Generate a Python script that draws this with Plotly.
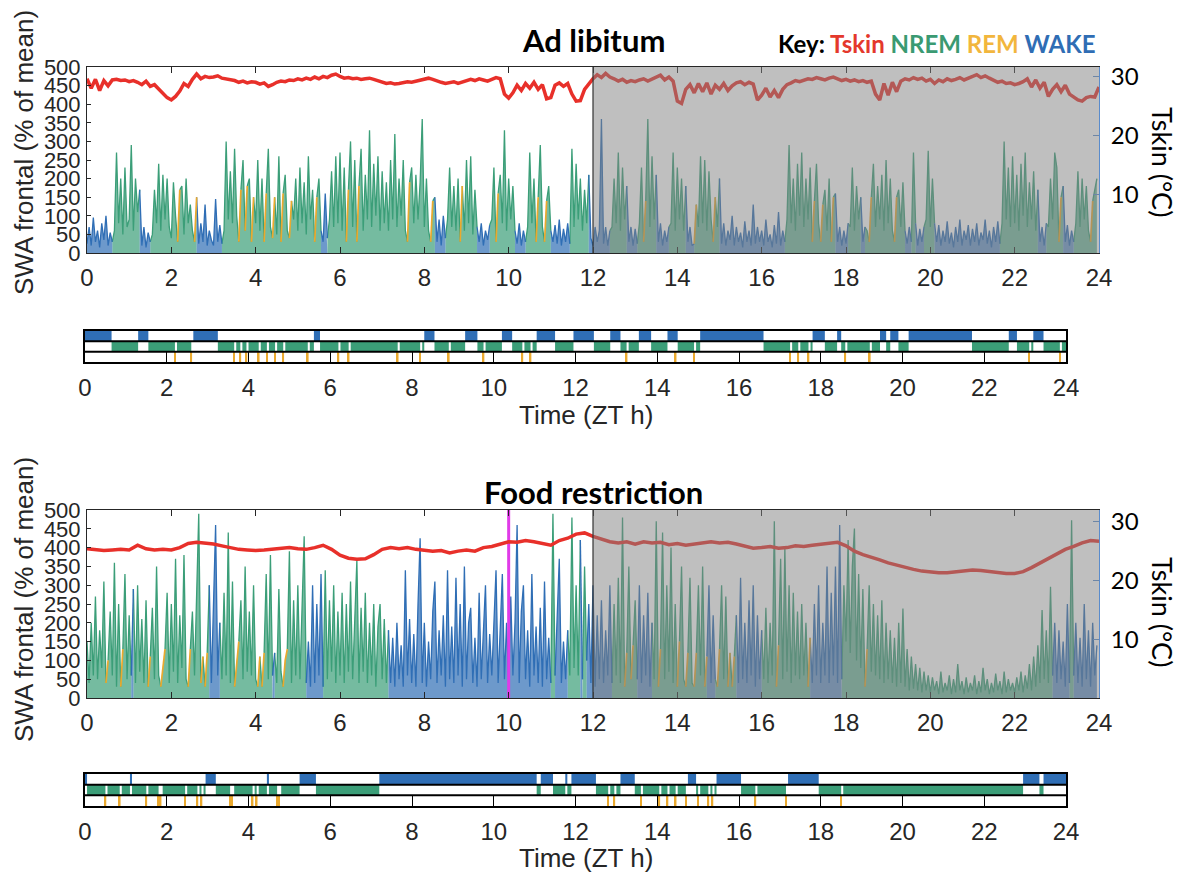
import numpy as np
import plotly.graph_objects as go

W, H = 1183, 873
def px(x): return x / W
def py(y): return 1 - y / H

# ---------------- DATA ----------------
dark_start, dark_end = 12, 24
feeding_time = 10
hours = list(range(0, 25, 2))
swa_ticks = list(range(0, 501, 50))
tskin_ticks = [10, 20, 30]
swa_step = 0.05   # h between SWA samples

# Ad libitum: wake bouts (start, end) in ZT h, REM episode times
wake_al = [(0, 0.65), (1.3, 1.55), (2.65, 3.25), (5.6, 5.75), (8.3, 8.55), (9.3, 9.6),
           (10.2, 10.45), (11.05, 11.5), (11.95, 12.45), (12.85, 13.1), (13.55, 13.85),
           (14.25, 14.5), (15.05, 16.6), (17.8, 18.1), (18.4, 18.5), (19.45, 19.6),
           (19.7, 19.9), (20.15, 21.7), (22.6, 22.8), (23.2, 23.45)]
rem_al = [2.2, 2.6, 3.65, 3.8, 3.95, 4.25, 4.45, 4.65, 4.85, 5.45, 6.2, 6.45, 7.65, 8.2,
          8.9, 9.75, 10.7, 10.9, 13.25, 14.45, 14.9, 17.25, 17.45, 17.7, 18.6, 19.2, 23.1, 23.85]

swa_al = [
    25, 70, 20, 95, 30, 60, 15, 80, 35, 100, 20, 55, 30, 60, 270, 80, 200, 50, 230, 70,
    90, 290, 60, 200, 110, 170, 20, 70, 15, 55, 30, 50, 170, 80, 240, 60, 210, 90, 200, 70,
    40, 190, 100, 30, 170, 180, 50, 200, 80, 130, 60, 30, 150, 25, 80, 30, 130, 20, 60, 35,
    20, 145, 30, 75, 25, 60, 300, 90, 220, 80, 280, 100, 30, 170, 250, 60, 180, 200, 30, 150,
    80, 250, 60, 200, 30, 160, 280, 70, 40, 150, 50, 260, 30, 160, 210, 60, 40, 140, 90, 200,
    60, 230, 80, 190, 50, 260, 90, 170, 30, 150, 200, 60, 30, 160, 40, 90, 220, 70, 260, 80,
    270, 60, 230, 30, 170, 300, 70, 250, 30, 180, 280, 60, 210, 90, 330, 70, 240, 100, 260, 60,
    220, 80, 190, 60, 250, 90, 320, 70, 200, 100, 250, 60, 30, 190, 230, 80, 210, 90, 190, 360,
    70, 200, 60, 30, 140, 150, 30, 90, 20, 100, 40, 90, 230, 70, 180, 60, 200, 30, 180, 60,
    250, 80, 260, 50, 170, 70, 30, 80, 20, 60, 35, 75, 90, 230, 30, 160, 210, 80, 330, 60,
    200, 90, 180, 60, 25, 80, 20, 60, 30, 70, 270, 80, 200, 30, 150, 290, 70, 30, 140, 180,
    60, 30, 75, 25, 90, 20, 65, 30, 80, 25, 280, 70, 240, 90, 200, 60, 170, 80, 210, 40,
    20, 70, 30, 60, 360, 25, 70, 20, 60, 70, 200, 80, 270, 60, 230, 90, 180, 30, 70, 20,
    65, 25, 80, 230, 30, 140, 360, 70, 260, 90, 210, 30, 80, 20, 60, 30, 70, 80, 270, 60,
    230, 90, 200, 60, 180, 30, 70, 20, 25, 130, 70, 260, 80, 250, 60, 220, 90, 30, 150, 70,
    200, 25, 80, 20, 60, 35, 100, 20, 70, 30, 55, 15, 85, 30, 60, 20, 130, 25, 70, 30,
    60, 20, 90, 30, 50, 15, 75, 25, 110, 20, 60, 30, 90, 290, 80, 200, 60, 240, 100, 270,
    70, 200, 90, 230, 30, 140, 240, 80, 30, 130, 170, 60, 200, 30, 150, 160, 30, 70, 20, 60,
    25, 80, 70, 230, 60, 180, 90, 150, 30, 70, 60, 30, 150, 240, 70, 180, 90, 210, 60, 250,
    80, 200, 60, 30, 150, 170, 70, 190, 60, 25, 70, 30, 270, 80, 20, 65, 30, 70, 90, 275,
    70, 200, 80, 30, 75, 20, 60, 30, 85, 25, 55, 15, 70, 30, 90, 20, 60, 35, 75, 20,
    65, 30, 80, 20, 55, 35, 90, 25, 60, 15, 70, 30, 85, 25, 80, 300, 90, 230, 70, 260,
    80, 210, 60, 240, 100, 270, 70, 190, 90, 220, 60, 170, 30, 70, 20, 80, 70, 200, 90, 270,
    230, 30, 150, 180, 30, 75, 20, 60, 30, 80, 220, 70, 200, 90, 180, 60, 30, 140, 170, 200,
]

tskin_al = [
    29.6, 28.0, 29.5, 27.6, 29.3, 28.4, 29.4, 29.5, 29.3, 29.4,
    29.1, 29.3, 29.0, 28.6, 29.2, 28.3, 28.6, 27.8, 27.2, 26.4,
    26.0, 26.6, 27.5, 28.8, 28.3, 29.5, 30.4, 29.6, 30.0, 29.8,
    29.9, 30.1, 29.7, 29.6, 29.4, 29.3, 29.0, 29.2, 28.9, 29.1,
    29.0, 28.7, 28.9, 28.3, 28.6, 29.0, 29.2, 29.1, 29.4, 29.3,
    29.6, 29.4, 29.7, 29.5, 29.9, 29.6, 30.0, 29.8, 30.2, 30.4,
    30.0, 29.7, 29.8, 29.6, 29.7, 29.5, 29.6, 29.7, 29.5, 29.3,
    29.0, 28.8, 28.9, 28.7, 28.8, 29.0, 29.1, 29.0, 29.2, 29.4,
    29.5, 29.7, 29.5, 29.2, 29.0, 28.8, 28.9, 29.1, 28.8, 29.0,
    29.3, 29.5, 29.3, 29.6, 29.4, 29.2, 29.5, 29.8, 29.6, 27.0,
    26.3, 27.2, 28.5, 27.6, 28.8, 28.0, 29.0, 27.8, 28.6, 26.2,
    26.4, 28.5, 28.9, 28.3, 28.8, 27.0, 25.8, 25.9, 27.8, 28.8,
    29.6, 30.3, 29.8, 30.5, 29.9, 29.6, 29.2, 29.5, 29.0, 29.3,
    29.1, 29.4, 29.6, 29.2, 29.5, 29.8, 30.2, 29.4, 29.9, 29.2,
    25.8, 25.4, 27.8, 28.6, 27.2, 28.8, 27.4, 28.9, 27.0, 28.5,
    27.8, 28.8, 27.6, 28.4, 28.9, 29.1, 28.6, 29.0, 28.7, 26.0,
    26.8, 28.0, 26.5, 27.6, 26.4, 27.8, 28.6, 28.9, 29.3, 29.1,
    29.4, 29.6, 29.5, 29.8, 29.6, 29.4, 29.7, 29.9, 29.6, 29.3,
    29.5, 29.2, 29.4, 29.1, 29.3, 29.0, 29.2, 27.0, 26.0, 28.8,
    26.8, 29.0, 27.4, 29.2, 29.6, 29.4, 29.8, 29.5, 29.7, 29.2,
    29.5, 28.8, 29.4, 29.1, 29.6, 29.3, 29.5, 29.8, 29.4, 29.7,
    30.0, 30.3, 29.8, 30.1, 29.7, 29.4, 29.0, 29.2, 28.8, 28.9,
    28.6, 28.8, 29.1, 29.6, 28.2, 29.4, 28.0, 29.0, 26.6, 27.8,
    28.6, 27.4, 28.5, 27.0, 26.5, 26.0, 25.8, 26.4, 26.6, 26.5,
    28.2,
]

# Food restriction
wake_fr = [(0, 0.05), (1.1, 1.15), (2.95, 3.2), (4.45, 4.5), (5.25, 5.65), (7.2, 11.05),
           (11.15, 11.45), (11.75, 11.8), (11.9, 12.5), (13.1, 13.45), (14.75, 14.95),
           (15.45, 16.05), (17.2, 17.95), (22.95, 23.35), (23.45, 24.0)]
rem_fr = [0.5, 0.85, 1.5, 1.8, 1.85, 2.45, 2.75, 2.85, 3.55, 3.6, 4.1, 4.2, 4.7, 4.75,
          12.8, 12.95, 13.6, 14.05, 14.25, 14.45, 14.7, 15.0, 15.25, 15.35, 16.4, 17.15, 18.5]

swa_fr = [
    150, 40, 200, 60, 270, 50, 180, 80, 310, 40, 100, 230, 60, 360, 30, 250, 30, 130, 330, 50,
    220, 60, 290, 40, 300, 70, 210, 40, 260, 30, 110, 240, 50, 350, 60, 30, 80, 130, 280, 40,
    250, 70, 370, 40, 220, 80, 380, 50, 30, 130, 230, 60, 290, 490, 40, 110, 30, 120, 300, 40,
    250, 460, 60, 200, 50, 280, 60, 440, 40, 310, 30, 100, 150, 260, 50, 350, 70, 230, 60, 300,
    50, 30, 110, 30, 120, 330, 50, 380, 60, 120, 40, 290, 70, 30, 100, 130, 390, 40, 260, 60,
    300, 50, 220, 430, 40, 150, 30, 300, 40, 250, 60, 330, 30, 340, 50, 260, 70, 300, 40, 230,
    60, 280, 40, 250, 70, 310, 50, 220, 367, 40, 240, 70, 280, 40, 200, 60, 250, 30, 190, 250,
    50, 210, 40, 180, 40, 160, 30, 200, 50, 140, 30, 340, 60, 210, 40, 170, 30, 250, 425, 40,
    200, 30, 150, 50, 230, 310, 40, 180, 60, 220, 30, 340, 50, 190, 40, 320, 60, 250, 30, 350,
    50, 200, 240, 40, 160, 30, 280, 50, 190, 300, 40, 170, 60, 220, 340, 40, 180, 330, 50, 200,
    40, 270, 60, 200, 460, 40, 230, 300, 50, 180, 30, 330, 60, 190, 40, 240, 30, 310, 50, 160,
    40, 490, 60, 200, 370, 40, 150, 50, 180, 60, 480, 80, 300, 60, 420, 50, 350, 100, 250, 40,
    300, 30, 220, 50, 260, 40, 180, 60, 300, 40, 250, 60, 320, 40, 480, 30, 120, 350, 50, 140,
    260, 50, 300, 40, 220, 60, 280, 30, 200, 50, 470, 30, 130, 440, 50, 300, 70, 400, 40, 250,
    30, 150, 350, 50, 30, 120, 320, 40, 30, 120, 300, 60, 350, 30, 110, 300, 40, 220, 50, 30,
    130, 300, 50, 270, 30, 120, 30, 110, 220, 40, 320, 50, 200, 40, 260, 60, 300, 30, 220, 50,
    180, 50, 240, 40, 200, 60, 470, 30, 140, 370, 50, 400, 70, 300, 40, 280, 60, 230, 50, 250,
    60, 200, 30, 160, 40, 250, 60, 300, 40, 200, 60, 350, 40, 280, 60, 350, 40, 460, 50, 300,
    150, 420, 120, 350, 451, 100, 330, 80, 290, 30, 130, 300, 70, 250, 60, 220, 50, 260, 40, 200,
    50, 180, 40, 160, 30, 200, 40, 238, 30, 130, 20, 110, 25, 90, 20, 80, 15, 70, 20, 60,
    15, 55, 20, 45, 10, 70, 15, 40, 20, 60, 10, 50, 15, 90, 20, 45, 10, 55, 15, 40,
    20, 60, 10, 45, 15, 80, 20, 50, 10, 40, 15, 65, 20, 45, 10, 70, 15, 50, 20, 40,
    15, 55, 20, 70, 15, 60, 25, 90, 20, 110, 30, 140, 40, 234, 50, 180, 40, 296, 60, 200,
    40, 180, 50, 150, 30, 250, 40, 473, 60, 200, 40, 160, 30, 250, 50, 180, 30, 200, 60, 140,
]

tskin_fr = [
    25.4, 25.2, 25.1, 25.2, 25.3, 25.2, 26.0, 25.4, 25.2, 25.3,
    25.2, 25.6, 26.3, 26.5, 26.4, 26.2, 25.9, 25.6, 25.3, 25.2,
    25.1, 25.2, 25.3, 25.5, 25.6, 25.4, 25.3, 25.6, 26.0, 25.3,
    24.3, 23.8, 23.6, 23.7, 24.4, 25.3, 25.6, 25.4, 25.6, 25.3,
    25.2, 25.0, 25.1, 24.7, 25.0, 25.2, 25.0, 25.6, 25.8, 26.2,
    26.6, 26.5, 26.8, 26.6, 26.3, 26.0, 26.8, 27.2, 27.9, 28.1,
    27.5, 27.0, 26.6, 26.4, 26.6, 26.2, 26.6, 26.4, 26.5, 26.1,
    26.3, 26.0, 26.2, 26.5, 26.6, 26.4, 26.5, 26.2, 25.9, 25.5,
    25.6, 25.8, 25.5, 25.6, 25.9, 25.8, 26.0, 26.2, 26.4, 26.5,
    25.9, 25.0, 24.4, 24.0, 23.5, 23.0, 22.6, 22.2, 21.9, 21.6,
    21.4, 21.3, 21.3, 21.5, 21.6, 21.8, 21.7, 21.5, 21.3, 21.2,
    21.2, 21.5, 22.2, 23.0, 23.8, 24.6, 25.3, 25.8, 26.4, 26.8,
    26.7,
]

# ---------------- STYLE ----------------
WAKE_C = '#2f6eb5'
NREM_C = '#3b9e78'
REM_C = '#eaa92e'
FILL = {'N': 'rgba(59,158,120,0.7)', 'W': 'rgba(47,110,181,0.7)'}
TSKIN_C = '#e8302a'
MAGENTA = '#e03be8'
AX_C = '#262626'
RIGHT_C = '#5a8ccc'
SANS = 'Liberation Sans, Arial'
TICK_FONT = dict(family=SANS, size=24, color=AX_C)
YTICK_FONT = dict(family=SANS, size=22, color=AX_C)

fig = go.Figure()


def sample_times(n):
    return [round(i * swa_step, 4) for i in range(n)]


def compute_states(t, wake, rem):
    out = []
    for x in t:
        if any(abs(x - r) < swa_step / 2 for r in rem):
            out.append('R')
        elif any(a - 1e-6 <= x < b - 1e-6 for a, b in wake):
            out.append('W')
        else:
            out.append('N')
    return out


def runs_of(st, s):
    """index runs [i0, i1] of segments ending in state s (segment k: k -> k+1)"""
    out, cur = [], None
    for i in range(len(st) - 1):
        if st[i + 1] == s:
            if cur is None:
                cur = [i, i + 1]
            else:
                cur[1] = i + 1
        elif cur is not None:
            out.append(cur); cur = None
    if cur is not None:
        out.append(cur)
    return out


def add_swa(t, v, st, xa, ya):
    colors = {'N': NREM_C, 'W': WAKE_C, 'R': REM_C}
    # filled cores (drawn first); brief REM episodes sit inside the NREM fill
    st_fill = ['N' if s == 'R' else s for s in st]
    for s in ['N', 'W']:
        fx, fy = [], []
        for i0, i1 in runs_of(st_fill, s):
            if fx:
                fx.append(None); fy.append(None)
            fx += [t[k] for k in range(i0, i1 + 1)] + [t[i1], t[i0]]
            fy += [v[k] for k in range(i0, i1 + 1)] + [0, 0]
        fig.add_trace(go.Scatter(x=fx, y=fy, mode='lines', fill='toself', fillcolor=FILL[s],
                                 line=dict(width=0), xaxis=xa, yaxis=ya, hoverinfo='skip'))
    # trace lines
    for s in ['N', 'W', 'R']:
        xs, ys = [], []
        for i0, i1 in runs_of(st, s):
            if xs:
                xs.append(None); ys.append(None)
            xs += [t[k] for k in range(i0, i1 + 1)]
            ys += [v[k] for k in range(i0, i1 + 1)]
        fig.add_trace(go.Scatter(x=xs, y=ys, mode='lines',
                                 line=dict(color=colors[s], width=1.3 if s != 'R' else 1.7),
                                 xaxis=xa, yaxis=ya, hoverinfo='skip'))


def add_hyp(t, st, wake, rem, xa, ya):
    fig.add_trace(go.Bar(x=[b - a for a, b in wake], base=[a for a, b in wake],
                         y=[2.5] * len(wake), orientation='h', width=1,
                         marker=dict(color=WAKE_C, line=dict(width=0)),
                         xaxis=xa, yaxis=ya, hoverinfo='skip'))
    runs, start = [], None
    for i, s in enumerate(st):
        if s == 'N' and start is None:
            start = t[i]
        if s != 'N' and start is not None:
            runs.append((start, t[i])); start = None
    if start is not None:
        runs.append((start, 24))
    fig.add_trace(go.Bar(x=[b - a for a, b in runs], base=[a for a, b in runs],
                         y=[1.5] * len(runs), orientation='h', width=1,
                         marker=dict(color=NREM_C, line=dict(width=0)),
                         xaxis=xa, yaxis=ya, hoverinfo='skip'))
    fig.add_trace(go.Bar(x=[0.04] * len(rem), base=[r - 0.02 for r in rem],
                         y=[0.5] * len(rem), orientation='h', width=1,
                         marker=dict(color=REM_C, line=dict(width=0)),
                         xaxis=xa, yaxis=ya, hoverinfo='skip'))


# ---- top panel (Ad libitum)
t_al = sample_times(len(swa_al))
st_al = compute_states(t_al, wake_al, rem_al)
add_swa(t_al, swa_al, st_al, 'x', 'y')
fig.add_trace(go.Scatter(x=list(np.linspace(0, 24, len(tskin_al))), y=tskin_al, mode='lines',
                         line=dict(color=TSKIN_C, width=3.5),
                         xaxis='x', yaxis='y2', hoverinfo='skip'))
add_hyp(t_al, st_al, wake_al, rem_al, 'x2', 'y3')

# ---- bottom panel (Food restriction)
t_fr = sample_times(len(swa_fr))
st_fr = compute_states(t_fr, wake_fr, rem_fr)
add_swa(t_fr, swa_fr, st_fr, 'x3', 'y4')
fig.add_trace(go.Scatter(x=[feeding_time, feeding_time], y=[0, 500], mode='lines',
                         line=dict(color=MAGENTA, width=3), xaxis='x3', yaxis='y4',
                         hoverinfo='skip'))
fig.add_trace(go.Scatter(x=list(np.linspace(0, 24, len(tskin_fr))), y=tskin_fr, mode='lines',
                         line=dict(color=TSKIN_C, width=3.5),
                         xaxis='x3', yaxis='y5', hoverinfo='skip'))
add_hyp(t_fr, st_fr, wake_fr, rem_fr, 'x4', 'y6')

# ---------------- AXES ----------------
main_x = dict(range=[0, 24], tickvals=hours, ticks='inside', ticklen=6, tickcolor=AX_C,
              showline=True, linecolor=AX_C, linewidth=1, mirror='ticks', showgrid=False,
              zeroline=False, tickfont=TICK_FONT, ticklabelstandoff=3, automargin=False,
              domain=[px(87), px(1099)])
main_y = dict(range=[0, 500], tickvals=swa_ticks, ticks='inside', ticklen=4, tickcolor=AX_C,
              showline=True, linecolor=AX_C, linewidth=1, showgrid=False, zeroline=False,
              tickfont=YTICK_FONT, ticklabelstandoff=1, automargin=False)
right_y = dict(side='right', tickvals=tskin_ticks, ticks='inside', ticklen=6,
               tickcolor=RIGHT_C, showline=True, linecolor=RIGHT_C, linewidth=1,
               showgrid=False, zeroline=False, automargin=False,
               tickfont=dict(family='Lato', size=24, color='black'), ticklabelstandoff=6)
hyp_x = dict(range=[0, 24], tickvals=hours, ticks='inside', ticklen=10, tickcolor='black',
             showline=True, linecolor='black', linewidth=1.5, mirror=True, showgrid=False,
             zeroline=False, tickfont=TICK_FONT, ticklabelstandoff=3, automargin=False,
             domain=[px(85), px(1066)])
hyp_y = dict(range=[0, 3], showticklabels=False, ticks='', showline=True, automargin=False,
             linecolor='black', linewidth=1.5, mirror=True, showgrid=False, zeroline=False)

fig.update_layout(
    width=W, height=H, margin=dict(l=0, r=0, t=0, b=0, pad=0), autosize=False,
    paper_bgcolor='white', plot_bgcolor='white', showlegend=False, barmode='overlay',
    xaxis=dict(main_x, anchor='y'),
    yaxis=dict(main_y, anchor='x', domain=[py(253), py(67)]),
    yaxis2=dict(right_y, anchor='x', overlaying='y', range=[0, 31.6]),
    xaxis2=dict(hyp_x, anchor='y3'),
    yaxis3=dict(hyp_y, anchor='x2', domain=[py(362), py(331)]),
    xaxis3=dict(main_x, anchor='y4'),
    yaxis4=dict(main_y, anchor='x3', domain=[py(698), py(510)]),
    yaxis5=dict(right_y, anchor='x3', overlaying='y4', range=[0, 32]),
    xaxis4=dict(hyp_x, anchor='y6'),
    yaxis6=dict(hyp_y, anchor='x4', domain=[py(806), py(774)]),
)

shapes = []
for xa, ya in [('x', 'y'), ('x3', 'y4')]:
    shapes.append(dict(type='rect', xref=xa, yref=ya + ' domain', x0=dark_start, x1=dark_end,
                       y0=0, y1=1, fillcolor='rgba(128,128,128,0.5)', line=dict(width=0),
                       layer='above'))
    shapes.append(dict(type='line', xref=xa, yref=ya + ' domain', x0=dark_start, x1=dark_start,
                       y0=0, y1=1, line=dict(color='#333333', width=1.2), layer='above'))
for xa, ya in [('x2', 'y3'), ('x4', 'y6')]:
    for yy in (1, 2):
        shapes.append(dict(type='line', xref=xa + ' domain', yref=ya, x0=0, x1=1, y0=yy, y1=yy,
                           line=dict(color='black', width=2)))
fig.update_layout(shapes=shapes)

ann = []
def text(x, y, s, size, family, color='black', angle=0, xanchor='center'):
    ann.append(dict(x=px(x), y=py(y), xref='paper', yref='paper', text=s, showarrow=False,
                    textangle=angle, xanchor=xanchor, yanchor='middle',
                    font=dict(size=size, family=family, color=color)))

text(593, 40, '<b>Ad libitum</b>', 31, 'Lato')
text(593, 492, '<b>Food restriction</b>', 31, 'Lato')
text(1097, 43, "<b>Key: <span style='color:#e4382c'>Tskin</span> "
               "<span style='color:#3a9a72'>NREM</span> "
               "<span style='color:#f2b63d'>REM</span> "
               "<span style='color:#2f6db4'>WAKE</span></b>", 24, 'Lato', xanchor='right')
for yc in (153, 600):
    text(24, yc, 'SWA frontal (% of mean)', 26, SANS, AX_C, angle=-90)
for yc in (162, 612):
    text(1163, yc, 'Tskin (\u00b0C)', 27, 'Lato', 'black', angle=90)
for yc in (415, 858):
    text(586, yc, 'Time (ZT h)', 26, SANS, AX_C)
fig.update_layout(annotations=ann)

fig.write_html('out.html', post_script="document.body.style.margin='0';")
